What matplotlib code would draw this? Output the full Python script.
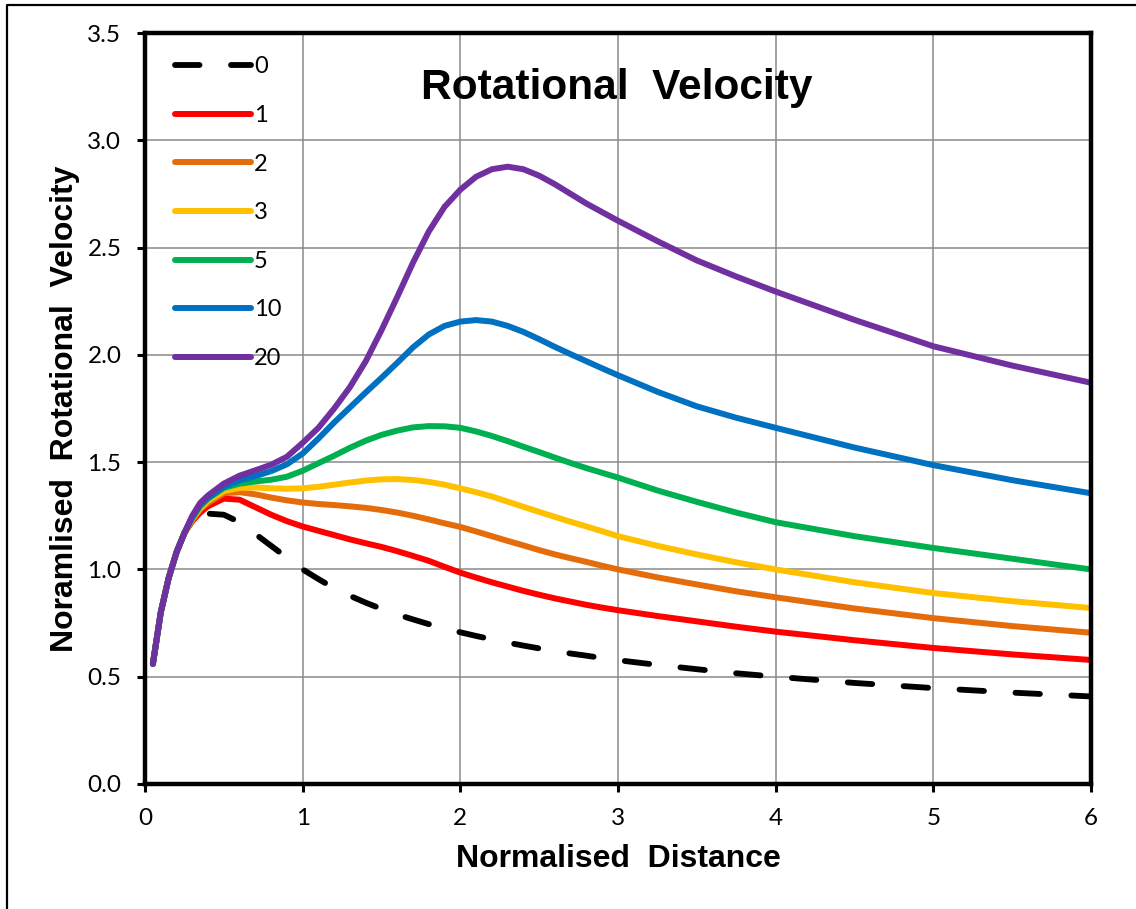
import matplotlib
matplotlib.use("Agg")
import matplotlib.pyplot as plt
from matplotlib.lines import Line2D

# normalised distance samples (shared by every curve)
distance = [0.05, 0.1, 0.15, 0.2, 0.25, 0.3, 0.35, 0.4, 0.5, 0.6, 0.7, 0.8, 0.9,
            1.0, 1.1, 1.2, 1.3, 1.4, 1.5, 1.6, 1.7, 1.8, 1.9, 2.0, 2.1, 2.2,
            2.3, 2.4, 2.5, 2.6, 2.7, 2.8, 2.9, 3.0, 3.25, 3.5, 3.75, 4.0,
            4.5, 5.0, 5.5, 6.0]

# rotational velocity, one list per series
v0 = [0.56, 0.80, 0.96, 1.08, 1.17, 1.215, 1.245, 1.26, 1.255, 1.22, 1.165,
      1.11, 1.055, 1.00, 0.955, 0.912, 0.877, 0.845, 0.816, 0.79, 0.767,
      0.745, 0.725, 0.707, 0.69, 0.674, 0.659, 0.645, 0.632, 0.62, 0.608,
      0.598, 0.587, 0.577, 0.555, 0.535, 0.516, 0.50, 0.471, 0.447, 0.426,
      0.408]
v1 = [0.56, 0.80, 0.96, 1.08, 1.17, 1.225, 1.265, 1.295, 1.33, 1.325, 1.29,
      1.255, 1.225, 1.20, 1.18, 1.16, 1.14, 1.122, 1.105, 1.085, 1.063,
      1.04, 1.012, 0.985, 0.962, 0.94, 0.92, 0.90, 0.882, 0.865, 0.85,
      0.835, 0.822, 0.81, 0.783, 0.758, 0.733, 0.71, 0.67, 0.634, 0.604,
      0.578]
v2 = [0.56, 0.80, 0.96, 1.08, 1.17, 1.23, 1.28, 1.31, 1.355, 1.36, 1.35,
      1.335, 1.322, 1.312, 1.305, 1.30, 1.294, 1.287, 1.277, 1.265, 1.25,
      1.233, 1.215, 1.198, 1.177, 1.155, 1.133, 1.112, 1.09, 1.07, 1.052,
      1.035, 1.017, 1.00, 0.963, 0.93, 0.898, 0.87, 0.818, 0.773, 0.736,
      0.705]
v3 = [0.56, 0.80, 0.96, 1.08, 1.17, 1.235, 1.285, 1.32, 1.365, 1.38, 1.382,
      1.378, 1.376, 1.378, 1.385, 1.395, 1.405, 1.414, 1.42, 1.421, 1.417,
      1.408, 1.395, 1.378, 1.36, 1.34, 1.316, 1.292, 1.268, 1.245, 1.222,
      1.20, 1.178, 1.155, 1.11, 1.07, 1.033, 1.00, 0.94, 0.89, 0.852,
      0.82]
v5 = [0.56, 0.80, 0.96, 1.08, 1.17, 1.24, 1.295, 1.33, 1.38, 1.40, 1.41,
      1.418, 1.432, 1.46, 1.495, 1.53, 1.567, 1.60, 1.627, 1.647, 1.662,
      1.668, 1.667, 1.66, 1.643, 1.622, 1.598, 1.572, 1.547, 1.521, 1.496,
      1.472, 1.45, 1.428, 1.368, 1.315, 1.265, 1.22, 1.155, 1.10, 1.05,
      1.00]
v10 = [0.56, 0.80, 0.96, 1.08, 1.17, 1.245, 1.30, 1.335, 1.385, 1.415, 1.435,
       1.458, 1.49, 1.54, 1.61, 1.685, 1.755, 1.825, 1.893, 1.963, 2.035,
       2.095, 2.135, 2.155, 2.162, 2.155, 2.135, 2.107, 2.073, 2.037, 2.003,
       1.97, 1.937, 1.905, 1.828, 1.76, 1.707, 1.66, 1.568, 1.486, 1.416,
       1.355]
v20 = [0.56, 0.80, 0.96, 1.08, 1.17, 1.25, 1.31, 1.345, 1.40, 1.437, 1.462,
       1.488, 1.525, 1.59, 1.66, 1.75, 1.85, 1.97, 2.115, 2.27, 2.43,
       2.575, 2.69, 2.77, 2.83, 2.865, 2.877, 2.865, 2.835, 2.795, 2.75,
       2.705, 2.665, 2.625, 2.53, 2.44, 2.365, 2.295, 2.163, 2.04, 1.95,
       1.87]

labels = ["0", "1", "2", "3", "5", "10", "20"]
series = [v0, v1, v2, v3, v5, v10, v20]
colours = ["black", "#FF0000", "#E46C0A", "#FFC000", "#00B050", "#0070C0", "#7030A0"]

TICK_FONT = "Lato"
BOLD_FONT = "Liberation Sans"

fig = plt.figure(figsize=(11.36, 9.09), dpi=100)
ax = fig.add_axes([145 / 1136, 1 - 784 / 909, 946 / 1136, 751 / 909])

for lab, vals, col in zip(labels, series, colours):
    if lab == "0":
        ax.plot(distance, vals, color=col, lw=4.2, label=lab,
                dashes=(4.2, 5.4), dash_capstyle="round")
    else:
        ax.plot(distance, vals, color=col, lw=4.3, label=lab,
                solid_capstyle="round", solid_joinstyle="round")

ax.set_xlim(0, 6)
ax.set_ylim(0, 3.5)
ax.set_xticks(range(0, 7))
ax.set_yticks([i * 0.5 for i in range(8)])
ax.set_yticklabels([f"{i * 0.5:.1f}" for i in range(8)])
ax.grid(True, color="#8a8a8a", lw=1.1)
ax.set_axisbelow(True)

for s in ax.spines.values():
    s.set_linewidth(3.2)
ax.tick_params(direction="out", length=6, width=2.2, labelsize=17.5, pad=11)
for t in ax.get_xticklabels() + ax.get_yticklabels():
    t.set_fontfamily(TICK_FONT)

ax.set_xlabel("Normalised  Distance", fontsize=23, fontweight="bold",
              fontfamily=BOLD_FONT)
ax.set_ylabel("Noramlised  Rotational  Velocity", fontsize=23,
              fontweight="bold", fontfamily=BOLD_FONT)
ax.xaxis.set_label_coords(0.5, -0.08)
ax.yaxis.set_label_coords(-0.069, 0.5)

ax.text(0.499, 0.927, "Rotational  Velocity", transform=ax.transAxes,
        ha="center", va="center", fontsize=30.5, fontweight="bold",
        fontfamily=BOLD_FONT)

leg = ax.legend(loc="upper left", bbox_to_anchor=(0.0317, 0.969),
                frameon=False, borderpad=0, borderaxespad=0,
                handlelength=3.2, handletextpad=0.15, labelspacing=1.17,
                prop={"family": TICK_FONT, "size": 17})

# outer chart border (only left and top edges show in the crop)
fig.add_artist(Line2D([7 / 1136, 7 / 1136, 1], [0, 1 - 5 / 909, 1 - 5 / 909],
                      transform=fig.transFigure, color="black", lw=1.6))

fig.savefig("out.png", dpi=100)
